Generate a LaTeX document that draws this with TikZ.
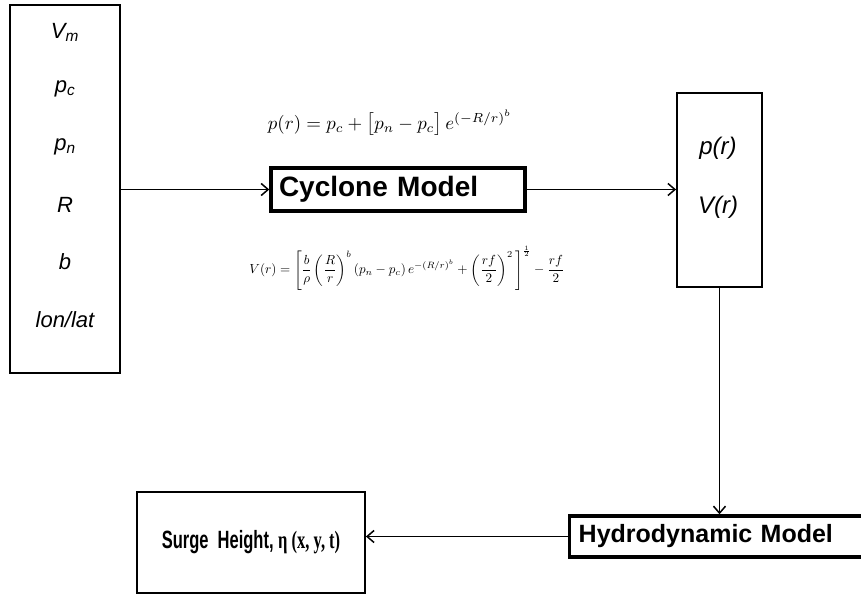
\documentclass[tikz,border=0pt]{standalone}
\usepackage{fontspec}
\setmainfont{Liberation Sans}
\newfontfamily\serifbf{Liberation Serif}
\usepackage{amsmath}
\usepackage{graphicx}
\usetikzlibrary{arrows.meta,positioning}
\tikzset{
  block/.style    = {draw, line width=1.8pt, rectangle, inner sep=0pt},
  modelbox/.style = {draw, line width=3.4pt, rectangle, inner sep=0pt,
                     font=\fontsize{25}{28}\selectfont\bfseries},
  invar/.style    = {font=\fontsize{22}{26}\selectfont\itshape},
  outvar/.style   = {font=\fontsize{24}{28}\selectfont\itshape},
  sig/.style      = {-{Straight Barb[length=7pt,width=12pt]}, line width=1.5pt},
}
\begin{document}
\begin{tikzpicture}[x=1pt,y=-1pt]
\useasboundingbox (0,0) rectangle (861,594);
\clip (0,0) rectangle (861,594);
% input parameters
\node[block,minimum width=110,minimum height=368] (inputs) at (65,189) {};
\node[invar] (vm)  at (65,32)  {V\textsubscript{m}};
\node[invar] (pc)  at (65,89)  {p\textsubscript{c}};
\node[invar] (pn)  at (65,147) {p\textsubscript{n}};
\node[invar] (rr)  at (65,205) {R};
\node[invar] (bb)  at (65,262) {b};
\node[invar] (ll)  at (65,320) {lon/lat};
% cyclone model
\node[modelbox,minimum width=254,minimum height=43,text width=238pt,align=left,
      font=\fontsize{28}{30}\selectfont\bfseries] (cyc) at (398,189.5) {Cyclone Model};
\node (pform) at (390,123) {\resizebox{244pt}{!}{$p(r) = p_c + \bigl[p_n - p_c\bigr]\, e^{(-R/r)^b}$}};
\node (vform) at (407,268) {\resizebox{315pt}{!}{$V(r) = \left[\dfrac{b}{\rho}\left(\dfrac{R}{r}\right)^{b}(p_n - p_c)\, e^{-(R/r)^b} + \left(\dfrac{rf}{2}\right)^{2}\,\right]^{\frac{1}{2}} - \dfrac{rf}{2}$}};
% pressure and wind fields
\node[block,minimum width=85,minimum height=194] (fields) at (719.5,190) {};
\node[outvar] (pr) at (718,148) {p(r)};
\node[outvar] (vr) at (718,207) {V(r)};
% hydrodynamic model and surge
\node[modelbox,anchor=west,minimum width=330,minimum height=41,
      text width=312pt,align=left] (hydro) at (568,536.5) {Hydrodynamic Model};
\node[block,minimum width=228,minimum height=101,
      font=\fontsize{25}{28}\selectfont\bfseries] (surge) at (251,542.5)
      {\scalebox{0.66}[1]{Surge\ \ Height, {\serifbf\bfseries η (x, y, t)}}};
\draw[sig] (cyc.west -| inputs.east) -- (cyc.west);
\draw[sig] (cyc.east) -- (fields.west |- cyc.east);
\draw[sig] (fields.south) -- (hydro.north -| fields.south);
\draw[sig] (hydro.west) -- (surge.east |- hydro.west);
\end{tikzpicture}
\end{document}
